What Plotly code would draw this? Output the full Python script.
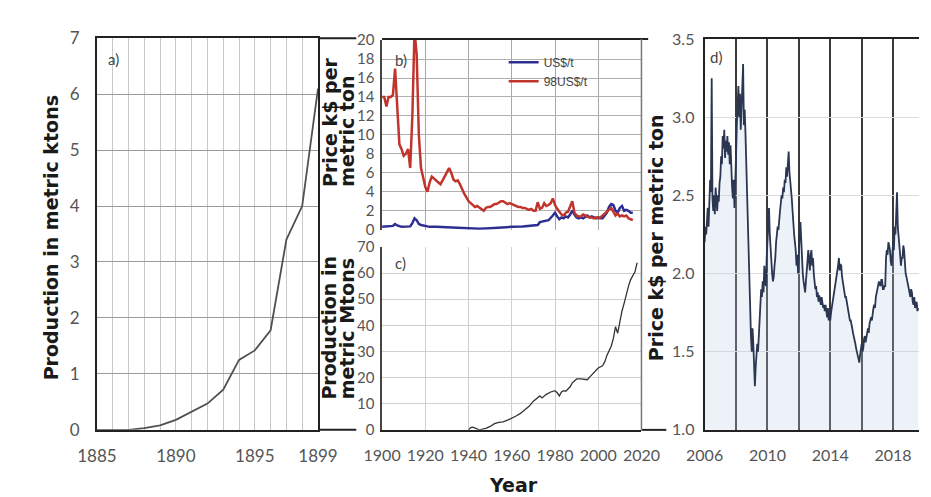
import plotly.graph_objects as go

W, H = 931, 497


def px_x(p):
    return p / W


def px_y(p):
    return 1 - p / H


# ---------------- data ----------------
# a) early production (kt)
a_year = [1885, 1886, 1887, 1888, 1889, 1890, 1891, 1892, 1893, 1894, 1895, 1896, 1897, 1898, 1899]
a_prod = [0.0, 0.0, 0.0, 0.03, 0.08, 0.18, 0.32, 0.47, 0.72, 1.25, 1.42, 1.78, 3.4, 4.0, 6.1]
a_ticks = [1885, 1890, 1895, 1899]

# b) prices (k$/t)
b_red_year = list(range(1900, 2017))
b_red = [14.0, 14.0, 13.0, 14.0, 14.0, 14.2, 17.0, 13.5, 9.0, 8.5,
         7.8, 8.0, 8.5, 6.5, 12.0, 21.0, 18.5, 10.0, 6.5, 5.5,
         4.5, 4.0, 5.0, 5.6, 5.4, 5.3, 5.0, 4.8, 5.2, 5.6,
         6.0, 6.5, 6.0, 5.3, 5.1, 5.2, 4.8, 4.2, 3.8, 3.4,
         3.0, 2.8, 2.6, 2.4, 2.5, 2.3, 2.2, 2.0, 2.3, 2.4,
         2.4, 2.6, 2.7, 2.7, 2.9, 3.0, 3.0, 2.8, 2.7, 2.8,
         2.7, 2.6, 2.5, 2.4, 2.4, 2.3, 2.3, 2.2, 2.1, 2.2,
         2.0, 2.0, 2.9, 2.2, 2.3, 2.8, 2.5, 2.6, 2.8, 3.3,
         2.6, 2.2, 1.9, 1.6, 1.5, 1.8, 1.9, 2.5, 3.0, 1.8,
         1.5, 1.4, 1.4, 1.6, 1.5, 1.4, 1.3, 1.3, 1.2, 1.3,
         1.2, 1.3, 1.5, 1.6, 1.8, 2.0, 2.3, 1.9, 1.5, 1.7,
         1.4, 1.5, 1.4, 1.5, 1.2, 1.1, 1.0]
b_blue_year = [1900, 1902, 1905, 1906, 1907, 1909, 1912, 1913, 1914, 1915, 1916, 1917, 1918, 1920,
               1922, 1925, 1930, 1935, 1940, 1945, 1950, 1955, 1960, 1965, 1970, 1972, 1973,
               1975, 1977, 1979, 1980, 1981, 1982, 1983, 1984, 1985, 1986, 1987, 1988, 1989,
               1990, 1991, 1992, 1993, 1994, 1995, 1996, 1997, 1998, 1999, 2000, 2001, 2002,
               2003, 2004, 2005, 2006, 2007, 2008, 2009, 2010, 2011, 2012, 2013, 2014, 2015, 2016]
b_blue = [0.3, 0.35, 0.4, 0.6, 0.45, 0.3, 0.3, 0.35, 0.7, 1.2, 1.0, 0.6, 0.5, 0.4,
          0.3, 0.3, 0.25, 0.2, 0.1, 0.1, 0.15, 0.25, 0.3, 0.35, 0.45, 0.5, 0.8,
          0.9, 1.0, 1.5, 1.8, 1.4, 1.1, 1.3, 1.2, 1.4, 1.3, 1.6, 2.0, 1.6,
          1.3, 1.2, 1.3, 1.2, 1.4, 1.5, 1.3, 1.4, 1.3, 1.2, 1.3, 1.2, 1.2,
          1.5, 1.8, 2.4, 2.7, 2.6, 2.0, 1.8, 2.3, 2.5, 2.0, 2.1, 2.0, 1.8, 1.8]
bc_ticks = [1900, 1920, 1940, 1960, 1980, 2000, 2020]

# c) modern production (Mt)
c_year = [1940, 1941, 1942, 1943, 1944, 1945, 1946, 1948, 1950, 1952, 1954, 1956, 1958, 1960,
          1962, 1964, 1966, 1968, 1970, 1972, 1973, 1974, 1976, 1978, 1980, 1981, 1982, 1983,
          1984, 1985, 1986, 1987, 1988, 1990, 1992, 1994, 1995, 1996, 1998, 2000, 2002, 2003,
          2004, 2006, 2007, 2008, 2009, 2010, 2011, 2012, 2013, 2014, 2015, 2016, 2017, 2018]
c_prod = [0.0, 0.9, 1.0, 0.6, 0.1, 0.0, 0.2, 0.6, 1.3, 2.4, 2.9, 3.1, 3.7, 4.4,
          5.3, 6.3, 7.5, 9.0, 11.0, 12.5, 13.0, 12.2, 13.6, 14.5, 15.0, 14.2, 13.0, 14.5,
          15.0, 14.8, 15.5, 16.5, 18.0, 19.5, 19.5, 19.4, 19.2, 20.2, 22.0, 23.7, 24.5, 26.0,
          28.5, 32.0, 35.0, 39.5, 37.0, 42.0, 45.5, 48.5, 52.0, 55.0, 57.5, 59.0, 60.5, 64.0]

# d) recent price (k$/t), sampled every 0.05 year from 2006.0
d_price = [
    2.20, 2.30, 2.25, 2.38, 2.42, 2.30, 2.45, 2.60, 2.52, 3.25, 2.48, 2.40, 2.50, 2.38, 2.55, 2.45, 2.40, 2.50, 2.46, 2.58,
    2.62, 2.75, 2.70, 2.88, 2.80, 2.92, 2.74, 2.85, 2.78, 2.88, 2.76, 2.84, 2.70, 2.82, 2.62, 2.55, 2.48, 2.60, 2.42, 2.55,
    2.75, 2.95, 3.05, 3.20, 3.00, 3.15, 2.92, 3.05, 3.10, 3.34, 2.95, 3.05, 2.90, 2.70, 2.50, 2.30, 2.10, 1.95, 1.80, 1.60,
    1.50, 1.65, 1.55, 1.32, 1.28, 1.40, 1.48, 1.55, 1.50, 1.62, 1.70, 1.80, 1.90, 1.85, 1.95, 1.88, 2.05, 1.95, 1.92, 2.10,
    2.20, 2.30, 2.42, 2.25, 2.15, 2.05, 2.00, 1.95, 1.98, 2.05, 2.10, 2.20, 2.25, 2.30, 2.28, 2.38, 2.40, 2.45, 2.50, 2.48,
    2.55, 2.52, 2.60, 2.58, 2.68, 2.62, 2.72, 2.78, 2.65, 2.60, 2.55, 2.48, 2.40, 2.30, 2.25, 2.20, 2.15, 2.05, 2.12, 2.00,
    2.20, 2.25, 2.33, 2.20, 2.10, 2.00, 1.95, 1.92, 1.88, 1.95, 2.00, 2.08, 2.15, 2.05, 2.02, 2.12, 2.15, 2.05, 2.10, 2.00,
    1.95, 1.90, 1.92, 1.85, 1.88, 1.82, 1.86, 1.84, 1.80, 1.85, 1.82, 1.78, 1.80, 1.76, 1.80, 1.75, 1.72, 1.78, 1.70, 1.74,
    1.70, 1.75, 1.78, 1.82, 1.85, 1.88, 1.92, 1.95, 1.98, 2.00, 2.05, 2.10, 2.02, 2.06, 2.05, 1.98, 1.95, 1.90, 1.88, 1.85,
    1.85, 1.82, 1.80, 1.75, 1.72, 1.70, 1.70, 1.66, 1.65, 1.62, 1.60, 1.58, 1.55, 1.52, 1.50, 1.48, 1.45, 1.43, 1.48, 1.52,
    1.55, 1.50, 1.52, 1.58, 1.60, 1.56, 1.58, 1.62, 1.65, 1.62, 1.68, 1.70, 1.72, 1.70, 1.75, 1.78, 1.80, 1.78, 1.85, 1.88,
    1.90, 1.92, 1.95, 1.93, 1.92, 1.96, 1.96, 1.90, 1.90, 1.92, 1.92, 2.10, 2.15, 2.12, 2.20, 2.18, 2.15, 2.08, 2.05, 2.12,
    2.20, 2.15, 2.30, 2.25, 2.35, 2.52, 2.30, 2.25, 2.20, 2.12, 2.05, 2.10, 2.10, 2.18, 2.15, 2.05, 2.00, 1.98, 1.95, 1.92,
    1.90, 1.88, 1.85, 1.90, 1.88, 1.82, 1.80, 1.85, 1.78, 1.80, 1.82, 1.76, 1.78,
]
d_year = [round(2006 + 0.05 * i, 2) for i in range(len(d_price))]

# ---------------- figure ----------------
TICK_FONT = "Lato, 'Open Sans', sans-serif"
TITLE_FONT = "'DejaVu Sans', Verdana, sans-serif"
tick_gray = "#555555"
dark = "#222222"

fig = go.Figure()
fig.add_trace(go.Scatter(x=a_year, y=a_prod, mode="lines", xaxis="x", yaxis="y",
                         line=dict(color="#505050", width=1.8), showlegend=False))
fig.add_trace(go.Scatter(x=b_blue_year, y=b_blue, mode="lines", xaxis="x2", yaxis="y2",
                         name="US$/t", line=dict(color="#2e2f92", width=2.5)))
fig.add_trace(go.Scatter(x=b_red_year, y=b_red, mode="lines", xaxis="x2", yaxis="y2",
                         name="98US$/t", line=dict(color="#c1342c", width=2.5)))
fig.add_trace(go.Scatter(x=c_year, y=c_prod, mode="lines", xaxis="x3", yaxis="y3",
                         line=dict(color="#333333", width=1.3), showlegend=False))
fig.add_trace(go.Scatter(x=d_year, y=d_price, mode="lines", xaxis="x4", yaxis="y4",
                         fill="tozeroy", fillcolor="rgba(190,210,230,0.28)",
                         line=dict(color="#2b3652", width=1.8), showlegend=False))


def tf(size):
    return dict(family=TICK_FONT, size=size, color=tick_gray)


fig.update_layout(
    width=W, height=H,
    margin=dict(l=0, r=0, t=0, b=0),
    paper_bgcolor="white", plot_bgcolor="white",
    showlegend=True,
    legend=dict(x=px_x(497), y=px_y(30), xanchor="left", yanchor="top",
                bgcolor="rgba(0,0,0,0)", tracegroupgap=0, itemwidth=30,
                font=dict(family="'Liberation Sans Narrow', 'Liberation Sans', sans-serif",
                          size=12, color="#444444")),
    # panel a
    xaxis=dict(domain=[px_x(72), px_x(303)], range=[1885, 1899], tickvals=a_ticks,
               showgrid=True, gridcolor="#c8c8c8", gridwidth=1,
               minor=dict(dtick=1, tick0=1885, showgrid=True, gridcolor="#c8c8c8", gridwidth=1),
               showline=True, linecolor=dark, linewidth=2, mirror=True, zeroline=False,
               ticks="", tickfont=tf(17), ticklabelstandoff=10, anchor="y"),
    yaxis=dict(domain=[px_y(429), px_y(20)], range=[0, 7], dtick=1,
               showgrid=True, gridcolor="#9a9a9a", gridwidth=1,
               showline=True, linecolor=dark, linewidth=2, mirror=True, zeroline=False,
               ticks="", tickfont=tf(17), ticklabelstandoff=12, anchor="x"),
    # panel b
    xaxis2=dict(domain=[px_x(370), px_x(641)], range=[1900, 2020], tickvals=bc_ticks,
                showticklabels=False, showgrid=True, gridcolor="#a8a8a8",
                showline=False, zeroline=False, anchor="y2"),
    yaxis2=dict(domain=[px_y(220), px_y(22)], range=[0, 20], dtick=2,
                showgrid=True, gridcolor="#b0b0b0", zeroline=False,
                showline=True, linecolor="#444444", linewidth=1.5,
                ticks="", tickfont=tf(15), ticklabelstandoff=3, anchor="x2"),
    # panel c
    xaxis3=dict(domain=[px_x(370), px_x(641)], range=[1900, 2020], tickvals=bc_ticks,
                showgrid=True, gridcolor="#d0d0d0", zeroline=False,
                showline=True, linecolor=dark, linewidth=2,
                ticks="", tickfont=tf(16), ticklabelstandoff=10, anchor="y3"),
    yaxis3=dict(domain=[px_y(429), px_y(238)], range=[0, 70], dtick=10,
                showgrid=True, gridcolor="#d0d0d0", zeroline=False,
                showline=True, linecolor="#444444", linewidth=1.5,
                ticks="", tickfont=tf(15), ticklabelstandoff=3, anchor="x3"),
    # panel d
    xaxis4=dict(domain=[px_x(707), 1.0], range=[2006, 2019.65], tick0=2006, dtick=4,
                showgrid=True, gridcolor="#3a3a3a", gridwidth=1.5,
                minor=dict(dtick=2, tick0=2006, showgrid=True, gridcolor="#3a3a3a", gridwidth=1.5),
                showline=True, linecolor=dark, linewidth=2, mirror=True, zeroline=False,
                ticks="", tickfont=tf(16), ticklabelstandoff=10, anchor="y4"),
    yaxis4=dict(domain=[px_y(429), px_y(21)], range=[1, 3.5], dtick=0.5, tickformat=".1f",
                showgrid=True, gridcolor="#dcdcdc", zeroline=False,
                showline=True, linecolor=dark, linewidth=2,
                ticks="", tickfont=tf(16), ticklabelstandoff=5, anchor="x4"),
)


# frame extensions (decorative borders of the composite figure)
def hline(x0, x1, y, color=dark, width=2):
    fig.add_shape(type="line", xref="paper", yref="paper",
                  x0=px_x(x0), x1=px_x(x1), y0=px_y(y), y1=px_y(y),
                  line=dict(color=color, width=width))


def vline(x, y0, y1, color=dark, width=2):
    fig.add_shape(type="line", xref="paper", yref="paper",
                  x0=px_x(x), x1=px_x(x), y0=px_y(y0), y1=px_y(y1),
                  line=dict(color=color, width=width))


hline(303, 343, 20)
hline(303, 343, 429)
hline(370, 648, 21)
hline(641, 667, 429)
vline(641, 21, 429, color="#777777", width=1.5)

# titles
title_font = dict(family=TITLE_FONT, size=19, color="#1a1a1a")
ann = []
ann.append(dict(text="<b>Production in metric ktons</b>", x=px_x(24), y=px_y(228),
                xanchor="center", yanchor="middle", textangle=-90))
ann.append(dict(text="<b>Price k$ per</b>", x=px_x(315), y=px_y(177),
                xanchor="center", yanchor="bottom", textangle=-90))
ann.append(dict(text="<b>metric ton</b>", x=px_x(333), y=px_y(177),
                xanchor="center", yanchor="bottom", textangle=-90))
ann.append(dict(text="<b>Production in</b>", x=px_x(315), y=px_y(399),
                xanchor="center", yanchor="bottom", textangle=-90))
ann.append(dict(text="<b>metric Mtons</b>", x=px_x(333), y=px_y(399),
                xanchor="center", yanchor="bottom", textangle=-90))
ann.append(dict(text="<b>Price k$ per metric ton</b>", x=px_x(657), y=px_y(228),
                xanchor="center", yanchor="middle", textangle=-90))
ann.append(dict(text="<b>Year</b>", x=px_x(507), y=px_y(487),
                xanchor="center", yanchor="middle"))
for a in ann:
    fig.add_annotation(xref="paper", yref="paper", showarrow=False, font=title_font, **a)

letter_font = dict(family=TICK_FONT, size=15, color="#444444")
for txt, x, y in [("a)", 82, 42), ("b)", 381, 43), ("c)", 381, 255), ("d)", 711, 40)]:
    fig.add_annotation(xref="paper", yref="paper", showarrow=False, text=txt,
                       x=px_x(x), y=px_y(y), xanchor="left", yanchor="middle", font=letter_font)

fig.write_html("out.html")
